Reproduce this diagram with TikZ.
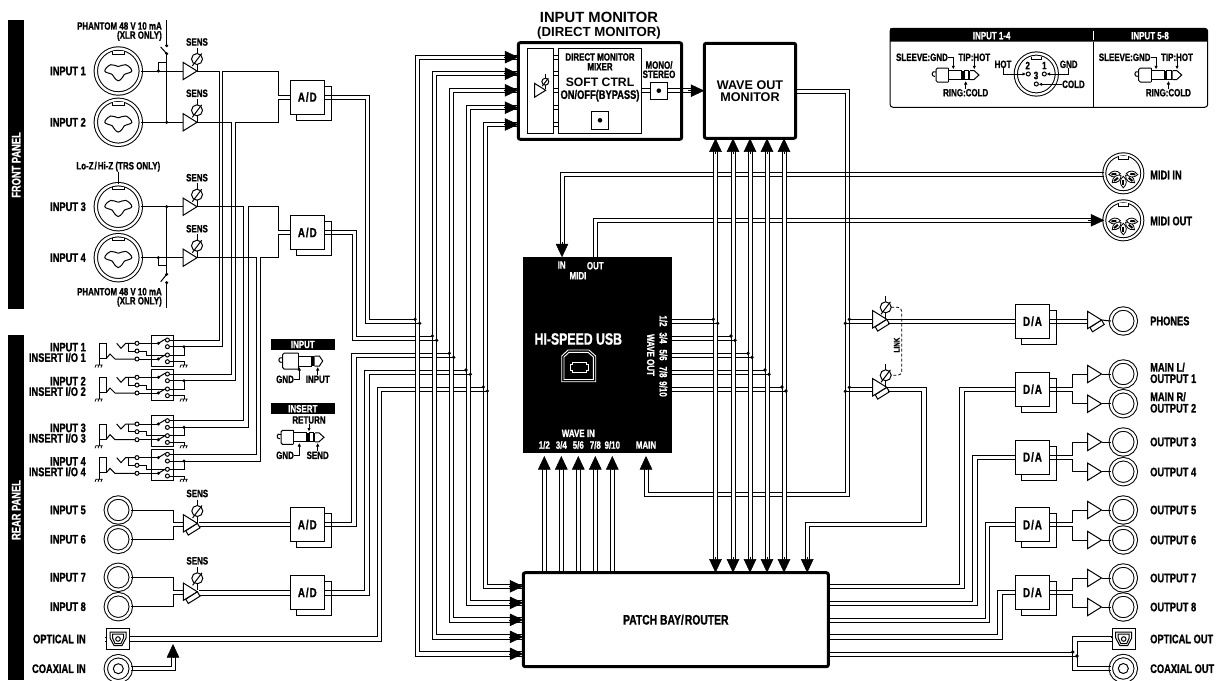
\documentclass[tikz,border=0pt]{standalone}
\usepackage{fontspec}
\setmainfont{Liberation Sans}
\newfontfamily\narrowfont[FakeStretch=0.75,BoldFeatures={FakeBold=1}]{Liberation Sans}
\usetikzlibrary{arrows.meta,shadows}

\tikzset{
  wire/.style={line width=1pt},
  lab/.style={font=\narrowfont\bfseries\fontsize{12.4}{12}\selectfont,inner sep=0pt},
  smalllab/.style={font=\narrowfont\bfseries\fontsize{10.6}{10}\selectfont,inner sep=0pt},
  whitelab/.style={smalllab,text=white},
  biglab/.style={font=\bfseries\fontsize{12.2}{13}\selectfont,inner sep=0pt},
  thickbox/.style={draw,line width=3pt,rounded corners=2pt,inner sep=0pt,outer sep=0pt,fill=white},
  plainbox/.style={draw,wire,inner sep=0pt,outer sep=0pt,fill=white},
  convbox/.style={plainbox,minimum width=34.4pt,minimum height=34pt,font=\narrowfont\bfseries\fontsize{13}{13}\selectfont,
    general shadow={draw,fill=white,shadow xshift=6.5pt,shadow yshift=-6pt}},
  rcajack/.style={circle,draw,wire,double,double distance=2.4pt,minimum size=25pt,inner sep=0pt,outer sep=0pt},
  combojack/.style={rcajack,minimum size=45pt},
  midijack/.style={rcajack,minimum size=38pt,double distance=2pt},
  bighead/.style={-{Triangle[length=13.5pt,width=12.5pt]},line width=.5pt},
  tinyarrow/.style={wire,line width=.9pt,-{Latex[length=3.5pt,width=3.5pt]}},
  tagbar/.style={fill=black,text=white,inner sep=0pt,minimum width=63.7pt,minimum height=11pt,
    font=\narrowfont\bfseries\fontsize{10.6}{10}\selectfont},
  % preamplificador, origen en el vertice
  amp/.pic={
    \draw[wire,fill=white] (-14,-8.7) -- (-14,8.7) -- (0,0) -- cycle;
    \coordinate (-in) at (-14,0);
    \coordinate (-out) at (0,0);
  },
  ampst/.pic={
    \draw[wire,fill=white] (-11.5,7.5) -- (-9,11.8) -- (2.7,4.5) -- (0,0) -- cycle;
    \draw[wire,fill=white] (-14,-8.7) -- (-14,8.7) -- (0,0) -- cycle;
    \coordinate (-in) at (-14,0);
    \coordinate (-out) at (0,0);
  },
  % potenciometro de ganancia
  sens/.pic={
    \draw[wire] (0,-11.5) -- (0,12);
    \draw[wire,fill=white] (0,0) circle (5.5pt);
    \draw[wire] (-4.7,7) -- (4.7,-5.5);
    \coordinate (-east) at (5.5,0);
  },
  comboface/.pic={
    \draw[wire] plot[smooth cycle,tension=.7] coordinates {(-13.5,0) (-7.5,-6.3) (0,-4.5) (7.5,-6.3) (13.5,0) (6,3.5) (3.7,7) (0,9.8) (-3.7,7) (-6,3.5)};
    \draw[wire,fill=white] (-6,-20.2) -- (-6,-17) -- (6,-17) -- (6,-20.2);
  },
  midiface/.pic={
    \draw[wire,fill=white] (-5,-17) -- (-5,-13.5) -- (5,-13.5) -- (5,-17);
    \foreach \a in {185,220,270,320,355}
      {\draw[line width=.8pt,fill=white,rotate=\a] (3pt,0pt) .. controls (6pt,4pt) and (11pt,4pt) .. (14.5pt,0pt) .. controls (11pt,-4pt) and (6pt,-4pt) .. (3pt,0pt) -- cycle;
       \fill[rotate=\a] (7pt,-1pt) rectangle (12pt,1pt);}
  },
  opticalface/.pic={
    \draw[wire,fill=white] (-11.7,-10.2) rectangle (11.7,10.2);
    \draw[wire] (-8,-7) -- (8,-7) -- (8,-1) -- (4,6.5) -- (-4,6.5) -- (-8,-1) -- cycle;
    \draw[wire] (-5.5,-5) -- (5.5,-5) -- (5.5,-1) -- (3,4.5) -- (-3,4.5) -- (-5.5,-1) -- cycle;
    \draw[wire] (0,0) circle (2.3pt);
    \draw[wire] (-13,-2) -- (-11.7,-2) (-13,2) -- (-11.7,2);
    \coordinate (-east) at (11.7,0);
    \coordinate (-west) at (-11.7,0);
  },
  % plug estereo y mono
  plugst/.pic={
    \draw[wire] (0,-3) .. controls (-5,-5) and (-5,2) .. (-1,1.5);
    \draw[wire,fill=white,rounded corners=1.5pt] (12.3,-7) -- (0,-7) -- (0,7) -- (12.3,7);
    \draw[wire] (12.3,-7) -- (12.3,7);
    \draw[wire,fill=white] (12.3,-4.5) rectangle (25.7,4.5);
    \fill (25.7,-4.5) rectangle (28,4.5);
    \draw[wire,fill=white] (28,-4.5) rectangle (32.3,4.5);
    \fill (32.3,-4.5) rectangle (34,4.5);
    \draw[wire,fill=white] (34,-4.5) -- (38,-4.5) -- (43,0) -- (38,4.5) -- (34,4.5);
  },
  plugmono/.pic={
    \draw[wire] (0,-3) .. controls (-5,-5) and (-5,2) .. (-1,1.5);
    \draw[wire,fill=white,rounded corners=1.5pt] (15.7,-8) -- (0,-8) -- (0,8) -- (15.7,8);
    \draw[wire] (15.7,-8) -- (15.7,8);
    \draw[wire,fill=white] (15.7,-5) rectangle (29,5);
    \fill (29,-5) rectangle (32,5);
    \draw[wire,fill=white] (32,-5) -- (36.7,-5) -- (40,0) -- (36.7,5) -- (32,5);
  },
  % jack de insert con su conmutador
  insertjack/.pic={
    \node[plainbox,fill=none,minimum width=21.6pt,minimum height=31pt,anchor=north west] (-box) at (0,0) {};
    \draw[wire] (-52.7,30) -- (-52.7,8.3) -- (-45,8.3) -- (-45,23.3) -- (-52.7,23.3);
    \draw[wire] (-45,23) -- (-41.7,19) -- (-36.7,24) -- (-16.7,24);
    \draw[wire] (-35,8.3) -- (-30.7,13.3) -- (-26,8.3) -- (-16.7,8.3);
    \draw[wire] (-23.3,8.3) -- (-23.3,16) -- (-16.7,16);
    \draw[wire] (-12.7,8.3) -- (6.7,8.3);
    \draw[wire] (-12.7,24) -- (6.7,24);
    \draw[wire] (-12.7,16) -- (-5.7,16) -- (-5.7,20) -- (13.7,20);
    \draw[wire] (6.7,8.3) -- (13.3,4.3) (6.7,24) -- (13.3,20);
    \fill (6.7,8.3) circle (1.7pt) (6.7,24) circle (1.7pt);
    \foreach \yy in {8.3,16,24}
      {\draw[wire,fill=white] (-14.7,\yy) circle (2pt);}
    \foreach \yy in {5,11.7,20,26.7}
      {\draw[wire,fill=white] (15.7,\yy) circle (2pt);}
    \draw[wire] (17.7,11.7) -- (32.3,11.7) -- (32.3,20) -- (17.7,20);
    \draw[wire] (17.7,26.7) -- (32.3,26.7) -- (32.3,30);
    \fill (32.3,11.7) circle (1.7pt);
    \foreach \xx in {-52.7,32.3}
      {\draw[line width=.8pt] (\xx-3.5,30) -- (\xx+3.5,30)
         (\xx-3,30) -- (\xx-4,32.5) (\xx,30) -- (\xx-1,32.5) (\xx+3,30) -- (\xx+2,32.5);}
    \coordinate (-send) at (17.7,5);
    \coordinate (-ret) at (32.3,11.7);
  }
}

\newcommand{\busband}[4]{
  \fill[white] (#1,#3) rectangle (#2,#4);
}

\begin{document}
\begin{tikzpicture}[x=1pt,y=-1pt]
  \useasboundingbox (0,0) rectangle (1220,680);

  % Paneles
  \node[fill=black,minimum width=15.5pt,minimum height=289pt,inner sep=0pt] (frontbar) at (16.2,164.5) {};
  \node[fill=black,minimum width=15.5pt,minimum height=345pt,inner sep=0pt] (rearbar) at (16.2,507.5) {};
  \node[lab,text=white,rotate=90] (frontlab) at (16.2,165) {FRONT PANEL};
  \node[lab,text=white,rotate=90] (rearlab) at (16.2,510) {REAR PANEL};

  % Bloques centrales
  \node[thickbox,minimum width=163.4pt,minimum height=96.6pt] (inmon) at (600,91) {};
  \node[thickbox,minimum width=91.4pt,minimum height=95pt,align=center,font=\bfseries\fontsize{12.6}{12.2}\selectfont] (wavemon) at (750,90.8) {WAVE OUT\\MONITOR};
  \node[fill=black,minimum width=148.7pt,minimum height=196pt,inner sep=0pt,outer sep=0pt] (usb) at (597.65,355.3) {};
  \node[thickbox,minimum width=305pt,minimum height=94pt,font=\narrowfont\bfseries\fontsize{13.8}{14}\selectfont] (patch) at (675.8,619.7) {PATCH BAY/\kern1pt ROUTER};

  % Input monitor
  \node[font=\bfseries\fontsize{14.8}{15}\selectfont,inner sep=0pt] (montitle) at (599,17.5) {INPUT MONITOR};
  \node[font=\bfseries\fontsize{13.2}{14}\selectfont,inner sep=0pt] (monsub) at (599,33) {(DIRECT MONITOR)};
  \node[plainbox,minimum width=25.6pt,minimum height=85pt] (monin) at (540.5,90.8) {};
  \node[plainbox,minimum width=83.4pt,minimum height=85pt] (mix) at (600,90.8) {};
  \foreach \ya/\yb in {55/59.3,71.7/75.7,88.3/92.3,105.7/109.7,122.3/126.7}
    {\draw[wire] (monin.east |- 0,\ya) -- (mix.west |- 0,\ya) (monin.east |- 0,\yb) -- (mix.west |- 0,\yb);}
  \pic[scale=.8] (monamp) at (545.7,90.3) {amp};
  \pic[scale=.63] (monpot) at (545.3,81.7) {sens};
  \node[smalllab] (dmtxt) at (600,57) {DIRECT MONITOR};
  \node[smalllab] (mixtxt) at (600,66.7) {MIXER};
  \node[biglab] (softtxt) at (600,82.7) {SOFT CTRL};
  \node[lab] (bypasstxt) at (600,95.7) {ON/OFF(BYPASS)};
  \node[plainbox,minimum size=17.4pt] (softbtn) at (600,120.3) {};
  \fill (softbtn.center) circle (2.3pt);
  \node[smalllab] (monotxt) at (659,65) {MONO/};
  \node[smalllab] (stereotxt) at (659,74.3) {STEREO};
  \draw[wire] (mix.east |- 0,88.7) -- (650,88.7) (mix.east |- 0,92.7) -- (650,92.7);
  \draw[wire] (667,88.7) -- (692,88.7) (667,92.7) -- (692,92.7);
  \node[plainbox,minimum size=17.4pt] (monobtn) at (658.8,90.7) {};
  \fill (monobtn.center) circle (2.3pt);
  \draw[bighead] (688,90.7) -- (wavemon.west |- 0,90.7);

  % Entradas XLR/TRS
  \foreach \n/\y in {1/71,2/122.3,3/206.7,4/257.7}
  {
    \node[combojack] (jk\n) at (118.3,\y) {};
    \pic at (jk\n) {comboface};
    \node[lab,anchor=east] (lbl\n) at (86,\y) {INPUT \n};
    \pic (amp\n) at (197,\y) {amp};
    \pic (pot\n) at (197,{\y-12}) {sens};
    \node[smalllab] (senstxt\n) at (197,{\y-29}) {SENS};
    \draw[wire] (jk\n.east) -- (amp\n-in);
  }

  % Phantom
  \node[smalllab,anchor=east] (phaa) at (162,26) {PHANTOM 48 V 10 mA};
  \node[smalllab,anchor=east] (phab) at (162,36) {(XLR ONLY)};
  \node[smalllab,anchor=east] (phca) at (162,291.7) {PHANTOM 48 V 10 mA};
  \node[smalllab,anchor=east] (phcb) at (162,301.7) {(XLR ONLY)};
  \node[smalllab] (lozlab) at (118.3,166.7) {Lo-Z\kern1pt/\kern1pt Hi-Z (TRS ONLY)};
  \draw[wire] (lozlab.south) -- (jk3.north);
  \draw[wire] (166.7,20) -- (166.7,45.7);
  \draw[wire] (166.7,53.7) -- (166.7,122.3);
  \draw[wire] (166.7,206.7) -- (166.7,274.3);
  \draw[wire] (166.7,282.7) -- (166.7,308);
  \draw[wire] (160.7,47) -- (166.7,53.7);
  \draw[wire] (160.7,281.7) -- (166.7,274.3);
  \draw[wire] (158.3,71) -- (158.3,62) -- (166.7,62);
  \draw[wire] (158.3,257.7) -- (158.3,265.7) -- (166.7,265.7);
  \fill (166.7,45.7) circle (1.7pt) (166.7,53.7) circle (1.7pt) (166.7,122.3) circle (1.7pt) (166.7,206.7) circle (1.7pt)
        (166.7,274.3) circle (1.7pt) (166.7,282.7) circle (1.7pt) (158.3,71) circle (1.7pt) (158.3,257.7) circle (1.7pt);

  % Inserts
  \foreach \n/\y in {1/335,2/369,3/415.7,4/449.3}
  {
    \pic (ins\n) at (151.7,\y) {insertjack};
    \node[lab,anchor=east] (instop\n) at (86,{\y+12.2}) {INPUT \n};
    \node[lab,anchor=east] (insbot\n) at (86,{\y+22.5}) {INSERT I/O \n};
  }

  % Conversores A/D
  \foreach \n/\y in {1/97,2/232.5,3/524.6,4/592.5}
    {\node[convbox] (ad\n) at (307.3,\y) {A\kern1pt/\kern1pt D};}

  % Cableado de los inserts
  \foreach \n/\ya/\xs/\xr/\ad/\yin in {1/71/219/222.7/1/95,2/122.3/231/235.7/1/99,3/206.7/243.5/248/2/230,4/257.7/256.5/260.7/2/234.3}
  {
    \draw[wire] (amp\n-out) -- (\xs,\ya) -- (\xs,0 |- ins\n-send) -- (ins\n-send);
    \draw[wire] (ins\n-ret) -- (\xr,0 |- ins\n-ret) -- (\xr,\ya) -- (278,\ya) -- (278,\yin) -- (ad\ad.west |- 0,\yin);
  }

  % Entradas 5 a 8
  \foreach \n/\y in {5/510,6/539.3,7/577.3,8/606.7}
  {
    \node[rcajack] (jk\n) at (118.3,\y) {};
    \node[lab,anchor=east] (lbl\n) at (86,\y) {INPUT \n};
  }
  \foreach \n/\y/\yp/\ja/\jb/\ad in {a/523.3/511/5/6/3,b/591.7/578.3/7/8/4}
  {
    \pic (rear\n) at (197.3,\y) {ampst};
    \pic (rpot\n) at (197.3,\yp) {sens};
    \node[smalllab] (rsens\n) at (197.3,{\yp-17.5}) {SENS};
    \draw[wire] (jk\ja.east) -- (173.3,0 |- jk\ja.east) -- (173.3,{\y-1}) -- (183.3,{\y-1});
    \draw[wire] (jk\jb.east) -- (173.3,0 |- jk\jb.east) -- (173.3,{\y+3.2}) -- (183.3,{\y+3.2});
    \draw[wire] (199,{\y-.8}) -- (ad\ad.west |- 0,{\y-.8});
    \draw[wire] (199,{\y+3.4}) -- (ad\ad.west |- 0,{\y+3.4});
  }

  % Optical y coaxial in
  \pic (optin) at (118,639) {opticalface};
  \node[rcajack] (coaxin) at (118.3,668.7) {};
  \draw[wire] (coaxin.center) circle (5pt);
  \node[lab,anchor=east] (optlab) at (86,639) {OPTICAL IN};
  \node[lab,anchor=east] (coaxlab) at (86,668.7) {COAXIAL IN};
  \draw[wire] (coaxin.east |- 0,666.7) -- (171,666.7) -- (171,655);
  \draw[wire] (coaxin.east |- 0,670.7) -- (175,670.7) -- (175,655);
  \draw[bighead] (173,658) -- (173,644);

  % Salidas de A/D hacia el bus izquierdo
  \draw[wire] (ad1.east |- 0,95) -- (369,95) -- (369,319.3) -- (415,319.3);
  \draw[wire] (ad1.east |- 0,99) -- (365,99) -- (365,323.3) -- (419.7,323.3);
  \draw[wire] (ad2.east |- 0,230) -- (356,230) -- (356,336) -- (432.3,336);
  \draw[wire] (ad2.east |- 0,234.3) -- (352,234.3) -- (352,340.3) -- (436.7,340.3);
  \draw[wire] (ad3.east |- 0,522.5) -- (351.7,522.5) -- (351.7,353.3) -- (449.3,353.3);
  \draw[wire] (ad3.east |- 0,526.7) -- (356,526.7) -- (356,357.3) -- (453.7,357.3);
  \draw[wire] (ad4.east |- 0,590.9) -- (364.3,590.9) -- (364.3,370) -- (466,370);
  \draw[wire] (ad4.east |- 0,595.1) -- (369,595.1) -- (369,374.3) -- (470.3,374.3);
  \draw[wire] (optin-east |- 0,636.7) -- (377.3,636.7) -- (377.3,387) -- (483.3,387);
  \draw[wire] (optin-east |- 0,641) -- (381.7,641) -- (381.7,391) -- (487.3,391);

  % Bus izquierdo
  \foreach \xl/\xr/\ym/\yn/\yta/\ytb/\yba/\ybb in {415/419.7/319.3/323.3/55/59.3/651.7/656,
      432.3/436.7/336/340.3/71.7/75.7/634.7/639,449.3/453.7/353.3/357.3/88.3/92.3/617.7/622,
      466/470.3/370/374.3/105.7/109.7/600.7/605,483.3/487.3/387/391/122.3/126.7/584.3/588.3}
  {
    \busband{\xl}{\xr}{\yta}{\ybb}
    \draw[wire] (inmon.west |- 0,\yta) -- (\xl,\yta) -- (\xl,\ybb) -- (patch.west |- 0,\ybb);
    \draw[wire] (inmon.west |- 0,\ytb) -- (\xr,\ytb) -- (\xr,\yba) -- (patch.west |- 0,\yba);
    \draw[wire] (\xl,\yn) -- (\xr,\yn);
    \fill (\xl,\ym) circle (1.8pt) (\xr,\yn) circle (1.8pt);
    \pgfmathsetmacro\yc{(\yta+\ytb)/2}
    \draw[bighead] (504,\yc) -- (inmon.west |- 0,\yc);
    \pgfmathsetmacro\yd{(\yba+\ybb)/2}
    \draw[bighead] (509,\yd) -- (patch.west |- 0,\yd);
  }

  % MIDI y main
  \node[midijack] (midiin) at (1123.3,173.3) {};
  \pic at (midiin) {midiface};
  \node[midijack] (midiout) at (1123.3,220.3) {};
  \pic at (midiout) {midiface};
  \node[lab,anchor=west] (midiinlab) at (1150,175) {MIDI IN};
  \node[lab,anchor=west] (midioutlab) at (1150,221) {MIDI OUT};
  \draw[wire] (midiin.west |- 0,172) -- (560,172) -- (560,245);
  \draw[wire] (midiin.west |- 0,176) -- (564,176) -- (564,245);
  \draw[bighead] (562,242) -- (562,0 |- usb.north);
  \draw[wire] (usb.north -| 593.3,0) -- (593.3,218.3) -- (1092,218.3);
  \draw[wire] (usb.north -| 597.3,0) -- (597.3,222.3) -- (1092,222.3);
  \draw[bighead] (1088,220.3) -- (midiout.west);
  \draw[wire] (wavemon.east |- 0,89) -- (849.3,89) -- (849.3,496.7) -- (644,496.7) -- (644,465);
  \draw[wire] (wavemon.east |- 0,93) -- (845.3,93) -- (845.3,492.7) -- (648.3,492.7) -- (648.3,465);
  \draw[bighead] (646,470) -- (646,456);

  % Bus de wave out
  \foreach \xl/\xr/\ym/\yn in {713.3/717.7/319.3/323.3,731/735/336/340.3,748/752/353.3/357.3,765/769/370/374.3,782/786/387/391}
  {
    \draw[wire] (usb.east |- 0,\ym) -- (\xl,\ym);
    \draw[wire] (usb.east |- 0,\yn) -- (\xr,\yn);
  }
  \foreach \xl/\xr/\xc/\ym/\yn in {713.3/717.7/715.5/319.3/323.3,731/735/733/336/340.3,748/752/750/353.3/357.3,765/769/767/370/374.3,782/786/784/387/391}
  {
    \busband{\xl}{\xr}{150}{562}
    \draw[wire] (\xl,150) -- (\xl,562) (\xr,150) -- (\xr,562);
    \draw[wire] (\xl,\yn) -- (\xr,\yn);
    \fill (\xl,\ym) circle (1.8pt) (\xr,\yn) circle (1.8pt);
    \draw[bighead] (\xc,154) -- (\xc,0 |- wavemon.south);
    \draw[bighead] (\xc,557) -- (\xc,0 |- patch.north);
  }

  % Wave in
  \foreach \t/\x in {{1/2}/544.3,{3/4}/561.3,{5/6}/578.3,{7/8}/595.3,{9/10}/612.3}
  {
    \draw[wire] ({\x-2.2},0 |- patch.north) -- ({\x-2.2},466);
    \draw[wire] ({\x+2.2},0 |- patch.north) -- ({\x+2.2},466);
    \draw[bighead] (\x,470) -- (\x,456);
    \node[whitelab] (win\x) at (\x,445) {\t};
  }

  % Textos del bloque USB
  \node[font=\narrowfont\bfseries\fontsize{16.4}{16}\selectfont,text=white,inner sep=0pt] (usbtxt) at (578.3,339) {HI-SPEED USB};
  \draw[white,line width=.9pt] (561.7,381.7) -- (561.7,356) -- (568,350) -- (589,350) -- (595.7,356) -- (595.7,381.7) -- cycle;
  \draw[white,line width=.9pt] (564,379.5) -- (564,357) -- (569,352.3) -- (588,352.3) -- (593.4,357) -- (593.4,379.5) -- cycle;
  \draw[white,line width=1pt] (572,362) -- (586,362) -- (586,364) -- (588,364) -- (588,370) -- (586,370) -- (586,372) -- (572,372) -- (572,370) -- (570,370) -- (570,364) -- (572,364) -- cycle;
  \node[whitelab] (usbin) at (561.7,265) {IN};
  \node[whitelab] (usbout) at (595.3,265.7) {OUT};
  \node[whitelab] (usbmidi) at (578,275.7) {MIDI};
  \node[whitelab] (wavein) at (578.3,433.3) {WAVE IN};
  \node[whitelab] (usbmain) at (646,445) {MAIN};
  \node[whitelab,rotate=-90] (waveout) at (650.7,355) {WAVE OUT};
  \foreach \t/\y in {{1/2}/321,{3/4}/338,{5/6}/355,{7/8}/372,{9/10}/389}
    {\node[whitelab,rotate=-90] (wout\y) at (663.3,\y) {\t};}

  % Leyenda de plugs
  \node[tagbar] (tagin) at (302.8,344.5) {INPUT};
  \pic at (282.7,361) {plugmono};
  \node[smalllab] (gnda) at (285,379.3) {GND};
  \node[smalllab] (inputa) at (317.7,379.3) {INPUT};
  \draw[tinyarrow] (gnda.east) -| (299.3,367);
  \draw[tinyarrow] (inputa.north) -- (317.7,367);
  \node[tagbar] (tagins) at (302.8,408.7) {INSERT};
  \pic at (281,437.3) {plugst};
  \node[smalllab] (gndb) at (285,455.3) {GND};
  \node[smalllab] (sendb) at (317.7,455.3) {SEND};
  \node[smalllab] (retb) at (309,420) {RETURN};
  \draw[tinyarrow] (gndb.east) -| (299.3,443);
  \draw[tinyarrow] (sendb.north) -- (317.7,443);
  \draw[tinyarrow] (retb.south) -- (309,431.5);

  % Cuadro de conectores
  \node[draw,wire,rounded corners=3pt,minimum width=317.7pt,minimum height=79pt,inner sep=0pt,outer sep=0pt] (conbox) at (1048.85,67.8) {};
  \fill[rounded corners=3pt] (conbox.north west) -- (1207.7,28.3) [sharp corners] -- (1207.7,41.7) -- (890,41.7) -- cycle;
  \draw[wire] (1093.3,41.7) -- (1093.3,107.3);
  \draw[white,line width=.9pt] (1093.3,30.5) -- (1093.3,40);
  \node[whitelab] (capa) at (991.7,35.7) {INPUT 1-4};
  \node[whitelab] (capb) at (1150,35.7) {INPUT 5-8};
  \foreach \n/\dx in {a/0,b/202.7}
  {
    \pic at ({936+\dx},75) {plugst};
    \node[smalllab,anchor=east] (slv\n) at ({948+\dx},57.3) {SLEEVE:GND};
    \node[smalllab] (tip\n) at ({974.3+\dx},57.3) {TIP:HOT};
    \node[smalllab] (rng\n) at ({965.7+\dx},92.7) {RING:COLD};
    \draw[tinyarrow] (slv\n.east) -| ({953.3+\dx},69.3);
    \draw[tinyarrow] (tip\n.south) -- ({974.3+\dx},69.3);
    \draw[tinyarrow] (rng\n.north) -- ({965.7+\dx},81);
  }
  \node[rcajack,minimum size=41pt,double distance=2.2pt] (xlr) at (1036.3,74) {};
  \draw[wire,fill=white] (1031,56.5) -- (1031,59) -- (1041.5,59) -- (1041.5,56.5);
  \foreach \n/\x/\y in {2/1028.3/74,1/1044.3/74,3/1036.3/84}
    {\draw[wire] (\x,\y) circle (2pt);}
  \node[smalllab] (pin2) at (1027.7,65.5) {2};
  \node[smalllab] (pin1) at (1044.3,65.5) {1};
  \node[smalllab] (pin3) at (1036,75.5) {3};
  \node[smalllab] (xhot) at (1003,64.3) {HOT};
  \node[smalllab] (xgnd) at (1068.7,64.3) {GND};
  \node[smalllab,anchor=west] (xcold) at (1062,84.3) {COLD};
  \draw[tinyarrow] (xhot.south) |- (1026,74);
  \draw[tinyarrow] (xgnd.south) |- (1046.6,74);
  \draw[tinyarrow] (xcold.west) -- (1038.6,84.3);

  % Etapas de salida: phones
  \pic (phamp) at (886.7,319.3) {ampst};
  \pic (phpot) at (885.7,307.3) {sens};
  \pic (lnamp) at (886.7,387.3) {ampst};
  \pic (lnpot) at (885.7,375.3) {sens};
  \draw[wire,line width=.8pt,dash pattern=on 3pt off 2pt,rounded corners=4pt] (phpot-east) -| (901.7,340) |- (lnpot-east);
  \node[font=\narrowfont\bfseries\fontsize{8.5}{9}\selectfont,rotate=90,inner sep=0pt,fill=white] (linklab) at (896.7,345) {LINK};
  \draw[wire] (849.3,319.3) -- (phamp-in);
  \draw[wire] (845.3,323.3) -- (872.7,323.3);
  \draw[wire] (849.3,387.3) -- (lnamp-in);
  \draw[wire] (845.3,391.3) -- (872.7,391.3);
  \fill (849.3,319.3) circle (1.8pt) (845.3,323.3) circle (1.8pt) (849.3,387.3) circle (1.8pt) (845.3,391.3) circle (1.8pt);
  \node[convbox] (dap) at (1032.5,321.3) {D\kern1pt/\kern1pt A};
  \draw[wire] (phamp-out) -- (dap.west |- phamp-out);
  \draw[wire] (888,323.3) -- (dap.west |- 0,323.3);
  \pic (phoamp) at (1101.5,320) {ampst};
  \node[rcajack] (phjack) at (1123.3,321) {};
  \node[lab,anchor=west] (phlab) at (1150,321) {PHONES};
  \draw[wire] (dap.east |- 0,319.3) -- (1088,319.3);
  \draw[wire] (dap.east |- 0,323.3) -- (1088,323.3);
  \draw[wire] (phoamp-out) -- (phjack.west);
  \draw[wire] (lnamp-out) -- (926,387.3) -- (926,526.7) -- (809.3,526.7) -- (809.3,560);
  \draw[wire] (888,391.3) -- (921.3,391.3) -- (921.3,522.7) -- (805,522.7) -- (805,560);
  \draw[bighead] (807.2,557) -- (807.2,0 |- patch.north);

  % Conversores D/A y salidas
  \foreach \n/\y in {1/389.2,2/457,3/524.7,4/592.5}
    {\node[convbox] (da\n) at (1032.5,\y) {D\kern1pt/\kern1pt A};}
  \foreach \n/\y in {1/374,2/403.7,3/442,4/471.7,5/510,6/540,7/578,8/607}
  {
    \pic (oamp\n) at (1101.5,\y) {amp};
    \node[rcajack] (ojk\n) at (1123.3,\y) {};
    \draw[wire] (oamp\n-out) -- (ojk\n.west);
  }
  \foreach \n/\y in {3/442,4/472,5/510,6/540,7/578,8/607}
    {\node[lab,anchor=west] (olab\n) at (1150,\y) {OUTPUT \n};}
  \node[lab,anchor=west] (olabl) at (1150,367.3) {MAIN L/};
  \node[lab,anchor=west] (olaba) at (1150,378.7) {OUTPUT 1};
  \node[lab,anchor=west] (olabr) at (1150,396.7) {MAIN R/};
  \node[lab,anchor=west] (olabb) at (1150,408.3) {OUTPUT 2};
  \foreach \n/\yu/\yl/\ja/\jb/\xo/\xi/\ypa/\ypb in {1/387.3/391.3/1/2/959.7/964/584/588.3,2/455/459.3/3/4/972.7/977/601/605.3,
      3/522.3/526.7/5/6/985.3/989.7/618/622,4/590.3/594.3/7/8/997.7/1002/634.7/639}
  {
    \draw[wire] (da\n.east |- 0,\yu) -- (1072.7,\yu) |- (oamp\ja-in);
    \draw[wire] (da\n.east |- 0,\yl) -- (1072.7,\yl) |- (oamp\jb-in);
    \draw[wire] (patch.east |- 0,\ypa) -- (\xo,\ypa) |- (da\n.west |- 0,\yu);
    \draw[wire] (patch.east |- 0,\ypb) -- (\xi,\ypb) |- (da\n.west |- 0,\yl);
  }

  % Optical y coaxial out
  \pic (optout) at (1123.7,639) {opticalface};
  \node[rcajack] (coaxout) at (1123.3,668.5) {};
  \draw[wire] (coaxout.center) circle (5pt);
  \node[lab,anchor=west] (ooptlab) at (1150,639) {OPTICAL OUT};
  \node[lab,anchor=west] (ocoaxlab) at (1150,668.7) {COAXIAL OUT};
  \draw[wire] (patch.east |- 0,652) -- (1072.7,652);
  \draw[wire] (patch.east |- 0,656) -- (1077,656);
  \draw[wire] (optout-west |- 0,636.7) -- (1072.7,636.7) -- (1072.7,670.7) -- (coaxout.west |- 0,670.7);
  \draw[wire] (optout-west |- 0,641) -- (1077,641) -- (1077,666.7) -- (coaxout.west |- 0,666.7);
  \fill (1072.7,652) circle (1.8pt) (1077,656) circle (1.8pt);

\end{tikzpicture}
\end{document}
